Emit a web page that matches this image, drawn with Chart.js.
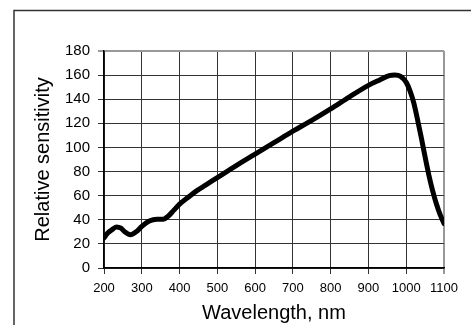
<!DOCTYPE html>
<html>
<head>
<meta charset="utf-8">
<script src="https://cdn.jsdelivr.net/npm/chart.js@4/dist/chart.umd.min.js"></script>
<style>
  html, body { margin: 0; padding: 0; background: #fff; }
  #wrap { width: 471px; height: 325px; position: relative; }
</style>
</head>
<body>
<div id="wrap"><canvas id="myChart" width="471" height="325"></canvas></div>
<script>
const wavelengths = [200, 210, 220, 233, 245, 255, 270, 285, 300, 320, 340, 357, 370, 385, 400, 420, 445, 470, 500, 550,
  600, 650, 700, 750, 800, 850, 900, 930, 955, 970, 985, 1000, 1010, 1020, 1030, 1040, 1050, 1060, 1070, 1080, 1090, 1100];
const sensitivity = [25, 29, 31.5, 34, 33, 30, 27.5, 30, 34.5, 39, 40.5, 40.5, 43, 48, 53, 58, 64, 69, 75, 85,
  94.5, 104, 113.5, 122.5, 132, 142, 151.5, 156, 159.5, 160, 159, 154, 147, 137, 123, 108, 92, 77, 64, 53, 44, 37];
const xTicks = [200, 300, 400, 500, 600, 700, 800, 900, 1000, 1100];
const yTicks = [0, 20, 40, 60, 80, 100, 120, 140, 160, 180];

const points = wavelengths.map((w, i) => ({ x: w, y: sensitivity[i] }));

// outer frame (only top and left edges show in the picture)
const framePlugin = {
  id: 'frame',
  beforeDraw(chart) {
    const ctx = chart.ctx;
    ctx.save();
    ctx.strokeStyle = '#333';
    ctx.lineWidth = 1.5;
    ctx.beginPath();
    ctx.moveTo(14, 325);
    ctx.lineTo(14, 10.5);
    ctx.lineTo(471, 10.5);
    ctx.stroke();
    ctx.restore();
  }
};

const data = {
  datasets: [
    {
      label: 'Relative sensitivity',
      data: points,
      borderColor: '#000',
      backgroundColor: '#000',
      borderWidth: 5,
      pointRadius: 0,
      cubicInterpolationMode: 'monotone',
      borderCapStyle: 'round',
      borderJoinStyle: 'round',
    },
  ],
};

const options = {
  responsive: false,
  animation: false,
  events: [],
  layout: { padding: { left: 0, top: 51, right: 27, bottom: 0 } },
  plugins: { legend: { display: false }, tooltip: { enabled: false } },
  scales: {
    x: {
      type: 'linear',
      min: 200,
      max: 1100,
      afterFit: (s) => { s.height = 57; },
      afterBuildTicks: (s) => { s.ticks = xTicks.map(v => ({ value: v })); },
      grid: {
        color: (c) => c.tick && c.tick.value === 1100 ? '#999' : '#333',
        lineWidth: (c) => c.tick && c.tick.value === 1100 ? 2 : 1,
        tickLength: 6,
      },
      border: { color: '#000', width: 1.5 },
      ticks: {
        color: '#000',
        padding: 7,
        maxRotation: 0,
        callback: (v) => String(v),
        font: { family: '"Liberation Sans", Arial, sans-serif', size: 13 },
      },
      title: {
        display: true,
        text: 'Wavelength, nm',
        color: '#000',
        padding: { top: 0, bottom: 0 },
        font: { family: '"Liberation Sans", Arial, sans-serif', size: 20 },
      },
    },
    y: {
      min: 0,
      max: 180,
      afterFit: (s) => { s.width = 104; },
      afterBuildTicks: (s) => { s.ticks = yTicks.map(v => ({ value: v })); },
      grid: {
        color: (c) => c.tick && c.tick.value === 180 ? '#999' : '#333',
        lineWidth: (c) => c.tick && c.tick.value === 180 ? 2 : 1,
        tickLength: 6,
      },
      border: { color: '#000', width: 1.5 },
      ticks: {
        color: '#000',
        padding: 8,
        callback: (v) => String(v),
        font: { family: '"Liberation Sans", Arial, sans-serif', size: 15 },
      },
      title: {
        display: true,
        text: 'Relative sensitivity',
        color: '#000',
        padding: { top: 31, bottom: 0 },
        font: { family: '"Liberation Sans", Arial, sans-serif', size: 20 },
      },
    },
  },
};

const config = {
  type: 'line',
  data: data,
  options: options,
  plugins: [framePlugin],
};

const myChart = new Chart(document.getElementById('myChart'), config);
</script>
</body>
</html>
